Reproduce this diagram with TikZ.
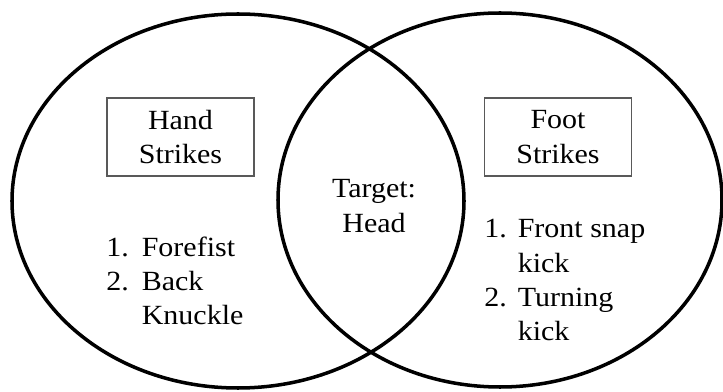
\documentclass[tikz,border=0pt]{standalone}
\usepackage{fontspec}
\setmainfont{Liberation Serif}[FakeStretch=1.08]
\usepackage{tikz}

\begin{document}
\begin{tikzpicture}[
    circ/.style={line width=2pt},
    label box/.style={rectangle, draw=black!65, line width=0.6pt, minimum width=2.94cm, minimum height=1.56cm, align=center, inner sep=0pt},
    txt/.style={inner sep=0pt, font=\fontsize{15.8}{19.4}\selectfont}
  ]
  \useasboundingbox (0,0) rectangle (14.46,7.82);
  % the two sets
  \draw[circ] (4.76,3.80) ellipse [x radius=4.52, y radius=3.74];
  \draw[circ] (10.0,3.82) ellipse [x radius=4.44, y radius=3.74];
  \node (hand) [label box, txt] at (3.61,5.08) {Hand\\Strikes};
  \node (foot) [label box, txt] at (11.16,5.08) {Foot\\Strikes};
  \node (target) [txt, align=center] at (7.48,3.70) {Target:\\Head};
  \node (handlist) [txt, anchor=base west] at (2.12,2.70)
    {\begin{tabular}[t]{@{}l@{\hspace{0.26cm}}l@{}}
      1. & Forefist\\
      2. & Back\\
         & Knuckle
    \end{tabular}};
  \node (footlist) [txt, anchor=base west] at (9.68,3.06)
    {\begin{tabular}[t]{@{}l@{\hspace{0.22cm}}l@{}}
      1. & Front snap\\
         & kick\\
      2. & Turning\\
         & kick
    \end{tabular}};
\end{tikzpicture}
\end{document}
